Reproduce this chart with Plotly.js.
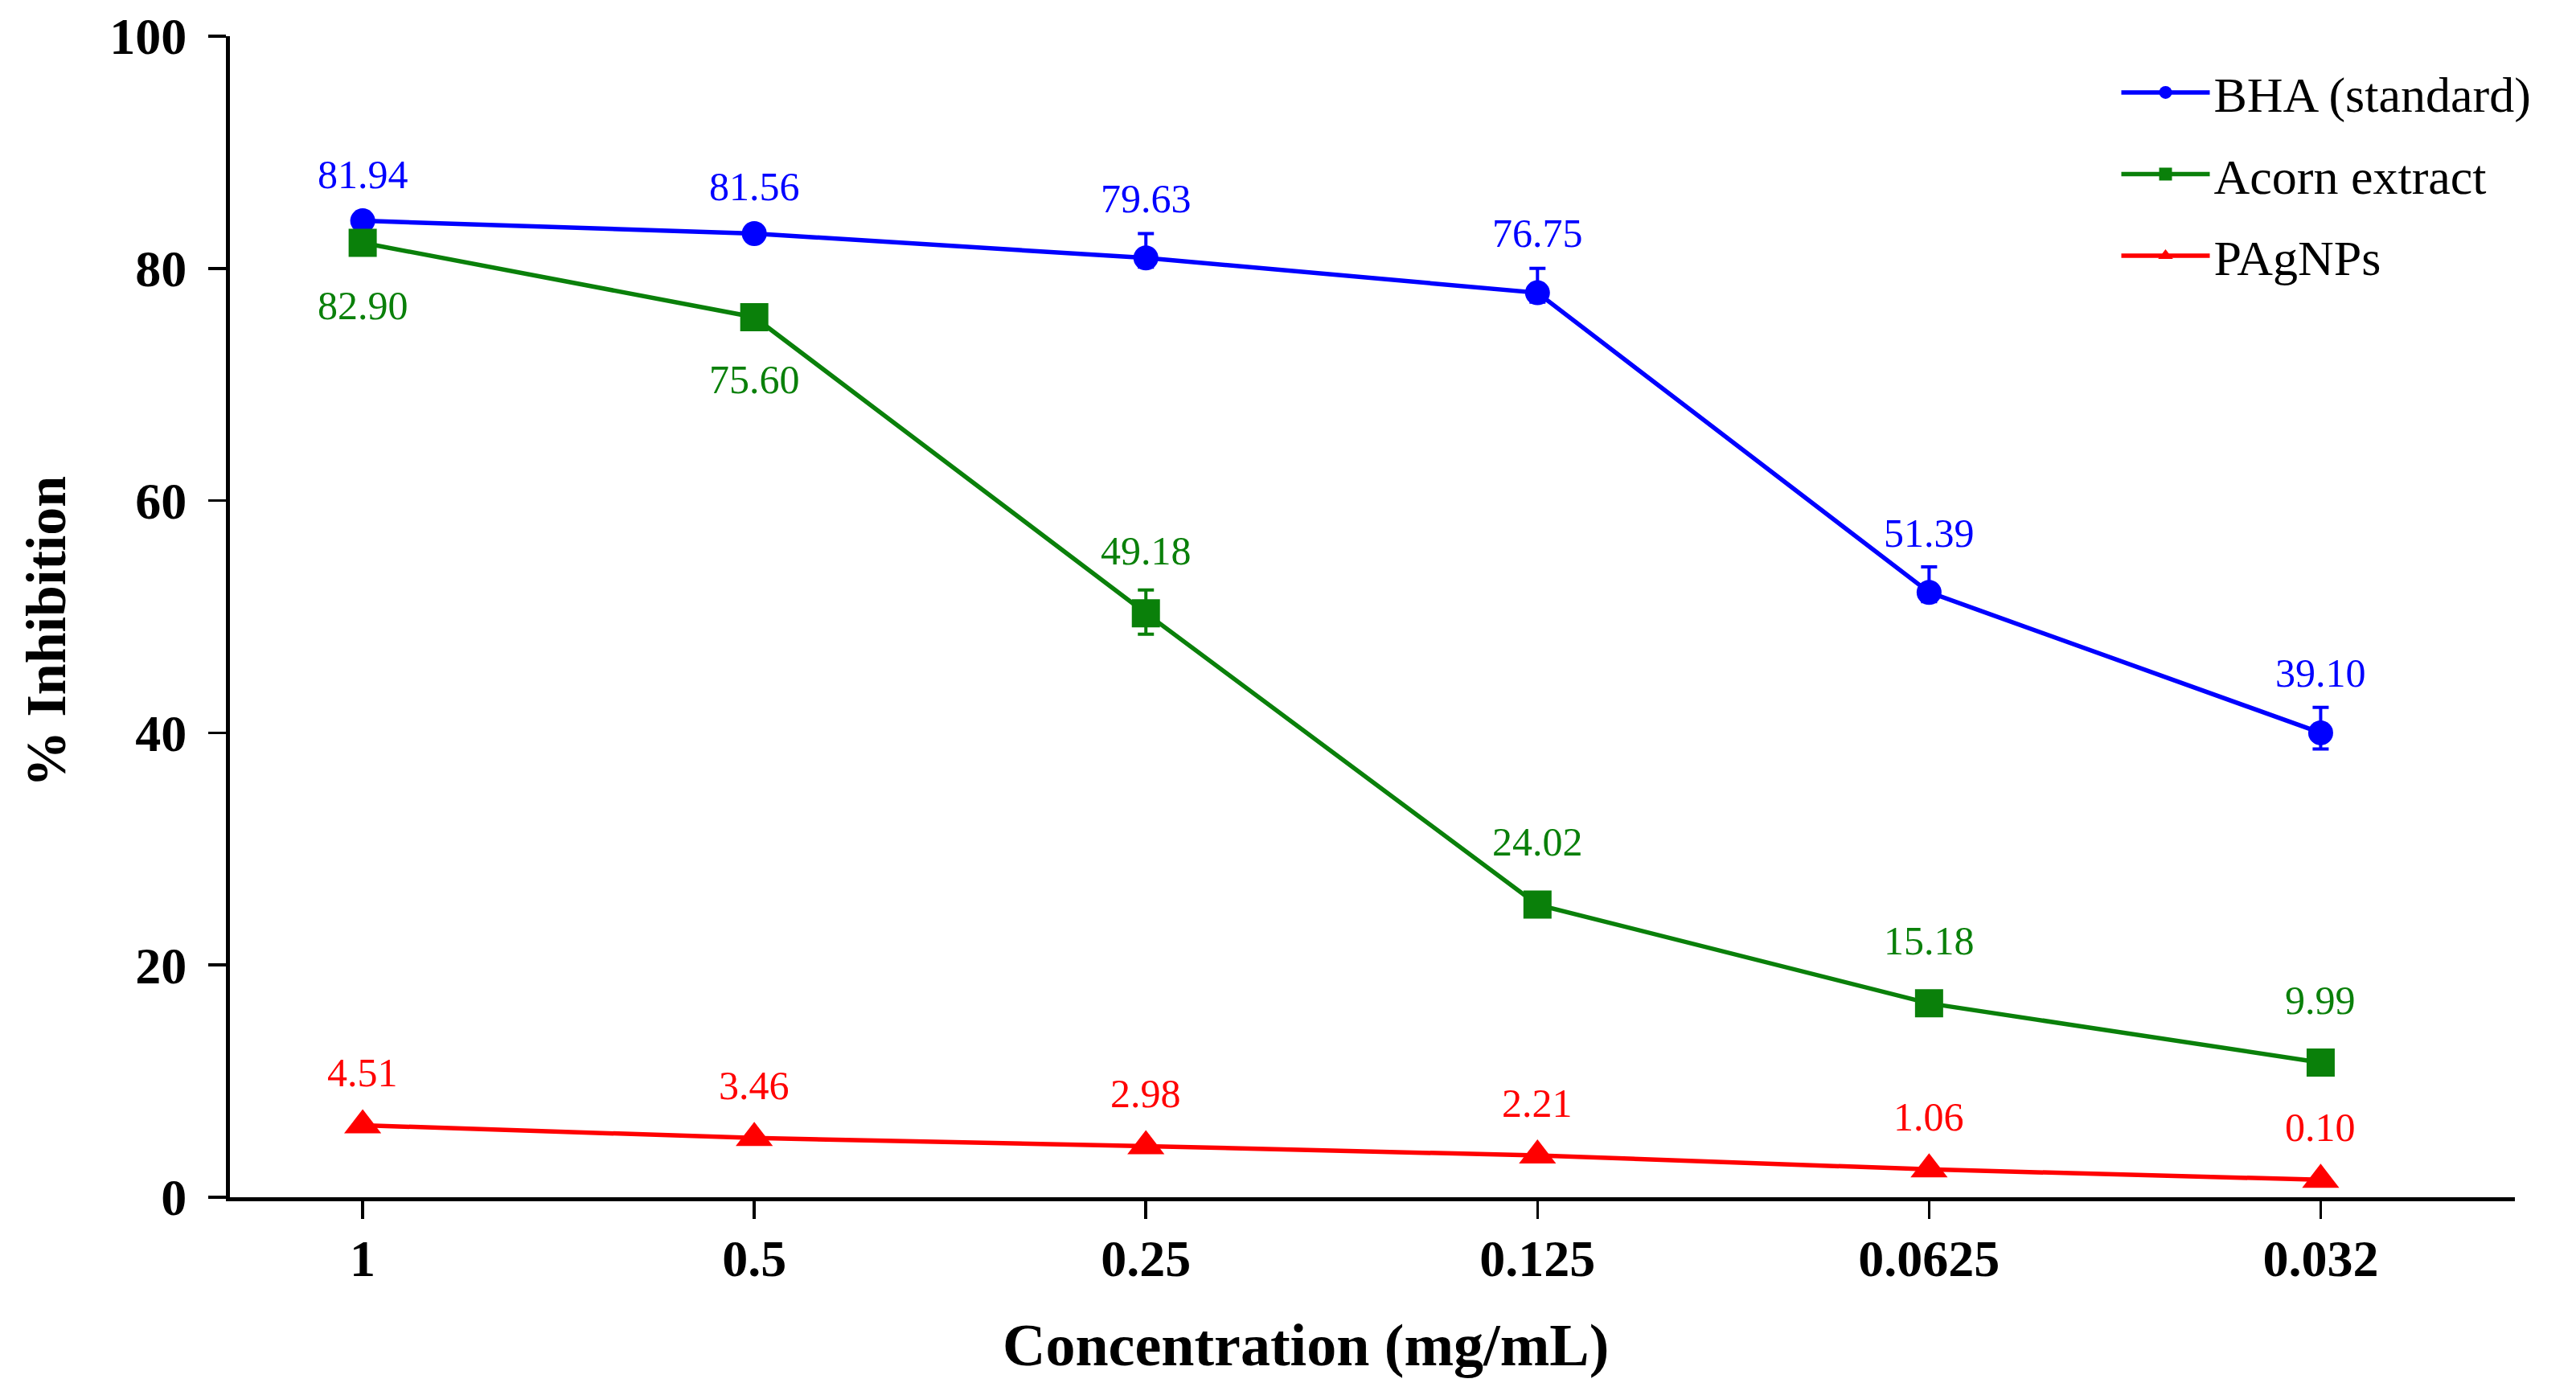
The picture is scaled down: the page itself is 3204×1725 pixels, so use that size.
<!DOCTYPE html>
<html>
<head>
<meta charset="utf-8">
<script src="https://cdn.plot.ly/plotly-3.0.1.min.js"></script>
<style>
  html, body { margin: 0; padding: 0; background: #fff; }
  #chart { width: 3204px; height: 1725px; }
</style>
</head>
<body>
<div id="chart"></div>
<script>
// concentrations (mg/mL) on the x axis
var concentrations = ['1', '0.5', '0.25', '0.125', '0.0625', '0.032'];

// BHA (standard)
var bhaValues = [84.1, 83.0, 80.9, 77.9, 52.1, 40.0];
var bhaErrUp = [0, 0, 2.1, 2.1, 2.2, 2.2];
var bhaErrDown = [0, 0, 0.8, 0.8, 0.8, 1.4];
var bhaLabels = ['81.94', '81.56', '79.63', '76.75', '51.39', '39.10'];

// Acorn extract
var acornValues = [82.2, 75.8, 50.3, 25.2, 16.7, 11.6];
var acornErrUp = [0, 0, 2.0, 0, 0, 0];
var acornErrDown = [0, 0, 1.8, 0, 0, 0];
var acornLabels = ['82.90', '75.60', '49.18', '24.02', '15.18', '9.99'];

// PAgNPs
var agValues = [6.2, 5.1, 4.4, 3.6, 2.4, 1.5];
var agLabels = ['4.51', '3.46', '2.98', '2.21', '1.06', '0.10'];

var serif = 'Liberation Serif, "Times New Roman", serif';
var BLUE = '#0000ff', GREEN = '#0a800a', RED = '#ff0000';

function series(name, values, up, down, color, symbol, size) {
  var t = {
    x: concentrations,
    y: values,
    name: name,
    legendgroup: name,
    type: 'scatter',
    mode: 'lines+markers',
    line: {color: color, width: 5.5},
    marker: {color: color, symbol: symbol, size: size}
  };
  if (up) {
    t.error_y = {type: 'data', symmetric: false, array: up, arrayminus: down,
      visible: true, color: color, thickness: 4, width: 10};
  }
  return t;
}

// value labels (x given as category index so "1", "0.5" are not read as numbers)
function labels(values, texts, errors, color, shiftFn) {
  return values.map(function (v, i) {
    return {
      x: i, y: v, xref: 'x', yref: 'y',
      text: texts[i], showarrow: false,
      yshift: shiftFn(i, errors ? errors[i] : 0),
      font: {family: serif, size: 50, color: color}
    };
  });
}

// acorn labels go under the point when the BHA line is close above
var notes = []
  .concat(labels(bhaValues, bhaLabels, bhaErrUp, BLUE, function (i, e) { return e ? 74 : 58; }))
  .concat(labels(acornValues, acornLabels, acornErrUp, GREEN, function (i, e) {
    return (bhaValues[i] - acornValues[i] < 10) ? -78 : 78;
  }))
  .concat(labels(agValues, agLabels, null, RED, function () { return 65; }));

notes.push({
  xref: 'paper', yref: 'paper', x: 0.4708, y: -0.1274, xanchor: 'center', yanchor: 'middle',
  text: 'Concentration (mg/mL)', showarrow: false,
  font: {family: serif, size: 74, color: '#000', weight: 'bold'}
});
notes.push({
  xref: 'paper', yref: 'paper', x: -0.0806, y: 0.4875, xanchor: 'center', yanchor: 'middle',
  text: '% Inhibition', showarrow: false, textangle: -90,
  font: {family: serif, size: 70, color: '#000', weight: 'bold'}
});

var data = [
  series('BHA (standard)', bhaValues, bhaErrUp, bhaErrDown, BLUE, 'circle', 31),
  series('Acorn extract', acornValues, acornErrUp, acornErrDown, GREEN, 'square', 35),
  series('PAgNPs', agValues, null, null, RED, 'triangle-up', 40)
];

var layout = {
  width: 3204,
  height: 1725,
  margin: {l: 286, r: 76, t: 45, b: 236},
  paper_bgcolor: '#ffffff',
  plot_bgcolor: '#ffffff',
  showlegend: true,
  legend: {
    x: 0.826, y: 0.984, xanchor: 'left', yanchor: 'top',
    font: {family: serif, size: 62, color: '#000'},
    itemwidth: 110, tracegroupgap: 18,
    bgcolor: 'rgba(0,0,0,0)'
  },
  xaxis: {
    type: 'category',
    range: [-0.339, 5.496],
    showline: true, linecolor: '#000', linewidth: 5,
    ticks: 'outside', ticklen: 22, tickwidth: 3.5, tickcolor: '#000',
    ticklabelstandoff: -6,
    showgrid: false, zeroline: false,
    tickfont: {family: serif, size: 64, color: '#000', weight: 'bold'}
  },
  yaxis: {
    range: [0, 100],
    tickvals: [0, 20, 40, 60, 80, 100],
    showline: true, linecolor: '#000', linewidth: 5,
    ticks: 'outside', ticklen: 22, tickwidth: 3.5, tickcolor: '#000',
    ticklabelstandoff: 14,
    showgrid: false, zeroline: false,
    tickfont: {family: serif, size: 64, color: '#000', weight: 'bold'}
  },
  annotations: notes
};

Plotly.newPlot('chart', data, layout, {displayModeBar: false, staticPlot: true});
</script>
</body>
</html>
